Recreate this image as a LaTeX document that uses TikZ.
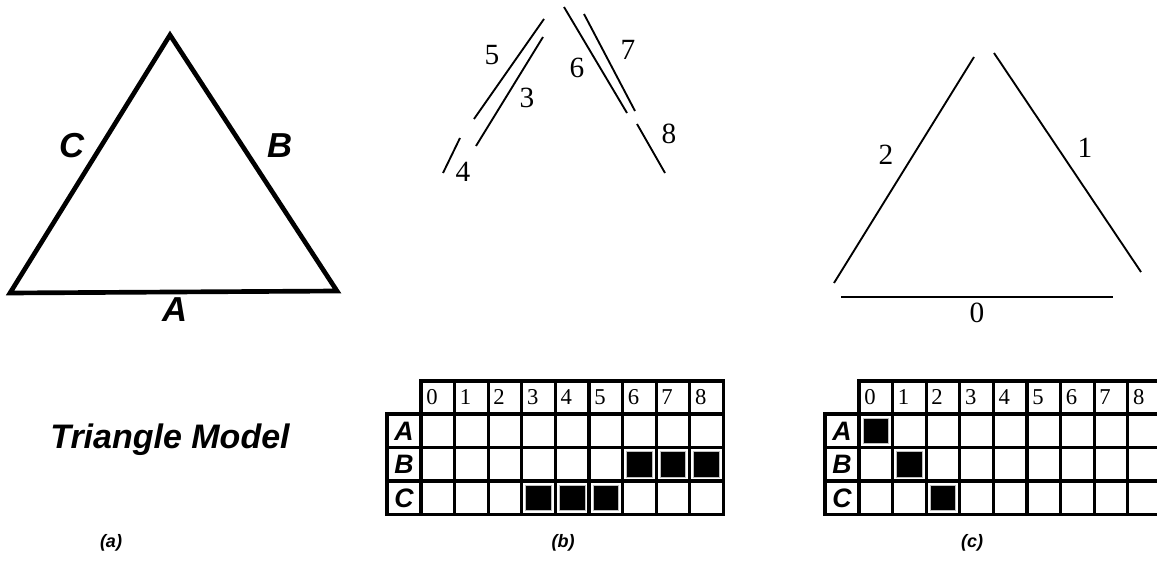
\documentclass[tikz,border=0pt]{standalone}
\usepackage{fontspec}
\setmainfont{Liberation Serif}
\setsansfont{Liberation Sans}
\usetikzlibrary{positioning}

\newcommand{\cellgrid}[3]{%
  \begin{scope}[shift={(#1,0)}]
    \draw[gridline] (0,381) -- (302.4,381);
    \foreach \i in {0,...,9} \draw[gridline] (\i*33.6,381) -- (\i*33.6,514.5);
    \foreach \y in {414,447.5,481,514.5} \draw[gridline] (-34,\y) -- (302.4,\y);
    \draw[gridline] (-34,414) -- (-34,514.5);
    \foreach \i in {0,...,8} \node[headnum] (#3h\i) at (\i*33.6+5,397) {\i};
    \foreach \r [count=\k from 0] in {A,B,C} \node[rowlab] (#3r\r) at (-17,431+\k*33.5) {\r};
    \foreach \c/\k in {#2}
      \filldraw[mark cell] (\c*33.6+4,414+\k*33.5+4) rectangle ++(25.6,25.5);
  \end{scope}}

\begin{document}
\begin{tikzpicture}[x=0.75pt,y=-0.75pt,
    edge/.style={line width=3.5pt},
    piece/.style={line width=1.4pt},
    gridline/.style={line width=2.5pt,line cap=rect},
    mark cell/.style={fill=black,draw=gray!50,line width=0.6pt},
    side/.style={font=\sffamily\bfseries\itshape\fontsize{26}{26}\selectfont},
    rowlab/.style={font=\sffamily\bfseries\itshape\fontsize{20}{20}\selectfont},
    headnum/.style={anchor=west,inner sep=0pt,font=\fontsize{17}{17}\selectfont},
    piecenum/.style={inner sep=0pt,font=\fontsize{22}{22}\selectfont},
    capt/.style={font=\sffamily\bfseries\itshape\fontsize{13.5}{13.5}\selectfont}]
  \useasboundingbox (0,0) rectangle (1157,563);

  \coordinate (T) at (170,35);
  \coordinate (L) at (10,293);
  \coordinate (R) at (337,291);
  \draw[edge] (L) -- (T) -- (R) -- cycle;
  \node[side] (sC) at (72,146) {C};
  \node[side] (sB) at (280,146) {B};
  \node[side] (sA) at (175,310) {A};
  \node[side,font=\sffamily\bfseries\itshape\fontsize{25.5}{25.5}\selectfont] (model) at (170,440) {Triangle Model};

  \coordinate (p5a) at (474,119);  \coordinate (p5b) at (544,19);
  \coordinate (p3a) at (476,146);  \coordinate (p3b) at (543,37);
  \coordinate (p4a) at (443,173);  \coordinate (p4b) at (460,138);
  \coordinate (p6a) at (564,7);    \coordinate (p6b) at (627,113);
  \coordinate (p7a) at (584,14);   \coordinate (p7b) at (635,111);
  \coordinate (p8a) at (637,124);  \coordinate (p8b) at (665,173);
  \draw[piece] (p5a) -- (p5b);
  \draw[piece] (p3a) -- (p3b);
  \draw[piece] (p4a) -- (p4b);
  \draw[piece] (p6a) -- (p6b);
  \draw[piece] (p7a) -- (p7b);
  \draw[piece] (p8a) -- (p8b);
  \node[piecenum] (n5) at (492,55) {5};
  \node[piecenum] (n3) at (527,98) {3};
  \node[piecenum] (n4) at (463,172) {4};
  \node[piecenum] (n6) at (577,68) {6};
  \node[piecenum] (n7) at (628,50) {7};
  \node[piecenum] (n8) at (669,134) {8};

  \coordinate (q2a) at (834,283);  \coordinate (q2b) at (974,57);
  \coordinate (q1a) at (994,53);   \coordinate (q1b) at (1141,272);
  \coordinate (q0a) at (841,297);  \coordinate (q0b) at (1113,297);
  \draw[piece] (q2a) -- (q2b);
  \draw[piece] (q1a) -- (q1b);
  \draw[piece] (q0a) -- (q0b);
  \node[piecenum] (n2) at (886,155) {2};
  \node[piecenum] (n1) at (1085,148) {1};
  \node[piecenum] (n0) at (977,313) {0};

  \cellgrid{421}{3/2,4/2,5/2,6/1,7/1,8/1}{b}
  \cellgrid{859}{0/0,1/1,2/2}{c}

  \node[capt] (ca) at (111,543) {(a)};
  \node[capt] (cb) at (563,543) {(b)};
  \node[capt] (cc) at (972,543) {(c)};
\end{tikzpicture}
\end{document}
